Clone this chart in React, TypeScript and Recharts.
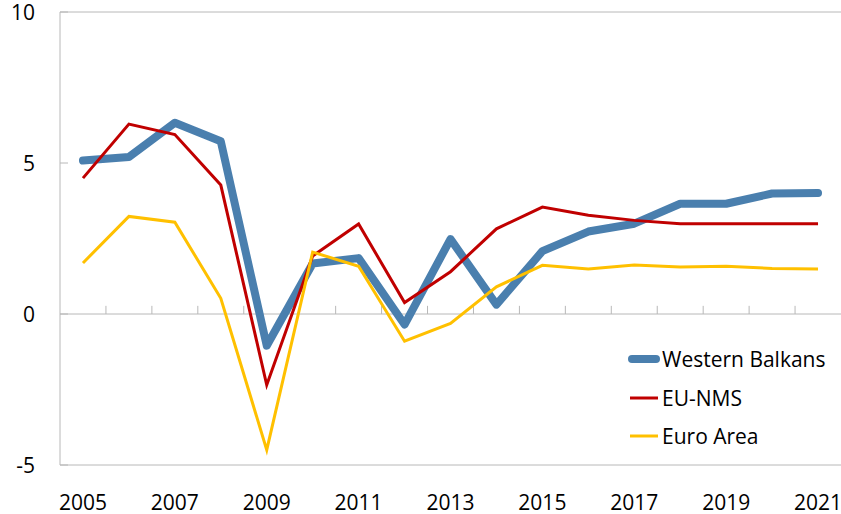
import { LineChart, Line, XAxis, YAxis, ReferenceLine } from 'recharts';

const years = [2005, 2006, 2007, 2008, 2009, 2010, 2011, 2012, 2013, 2014, 2015, 2016, 2017, 2018, 2019, 2020, 2021];
const westernBalkans = [5.08, 5.2, 6.33, 5.72, -1.05, 1.67, 1.85, -0.35, 2.48, 0.31, 2.08, 2.73, 2.99, 3.65, 3.65, 3.99, 4.01];
const euNms = [4.5, 6.29, 5.94, 4.27, -2.35, 1.92, 2.98, 0.38, 1.4, 2.82, 3.54, 3.27, 3.1, 2.99, 2.99, 2.99, 2.99];
const euroArea = [1.69, 3.23, 3.04, 0.52, -4.5, 2.05, 1.58, -0.9, -0.31, 0.9, 1.61, 1.49, 1.62, 1.56, 1.58, 1.51, 1.49];

const yearTicks = [2005, 2007, 2009, 2011, 2013, 2015, 2017, 2019, 2021];
const valueTicks = [-5, 0, 5, 10];

const data = years.map((year, i) => ({
    year,
    wb: westernBalkans[i],
    nms: euNms[i],
    ea: euroArea[i],
}));

// boundaries between years, where the small ticks sit on the zero line
const bounds = years.slice(0, -1).map((y) => y + 0.5);

const series = [
    { key: 'wb', name: 'Western Balkans', color: '#4A7FAE', width: 8, round: true },
    { key: 'nms', name: 'EU-NMS', color: '#C00000', width: 3, round: false },
    { key: 'ea', name: 'Euro Area', color: '#FFC000', width: 3, round: false },
];

const GRID = '#B8B8B8';
const FONT = 21;

const YTick = ({ x, y, payload }: any) => (
    <g>
        <text x={x} y={y} dy="0.36em" textAnchor="end" fill="#000" fontSize={FONT}>{payload.value}</text>
        <line x1={x + 25} x2={x + 33} y1={y} y2={y} stroke={GRID} />
    </g>
);

const LegendBox = () => (
    <div style={{ position: 'absolute', left: 628, top: 340 }}>
        {series.map((s) => (
            <div key={s.key} style={{ display: 'flex', alignItems: 'center', height: 38.5 }}>
                <svg width={32} height={10}>
                    <line
                        x1={s.round ? 4 : 2}
                        x2={s.round ? 28 : 30}
                        y1={5}
                        y2={5}
                        stroke={s.color}
                        strokeWidth={s.width}
                        strokeLinecap={s.round ? 'round' : 'butt'}
                    />
                </svg>
                <span style={{ fontSize: FONT, color: '#000', marginLeft: 2, whiteSpace: 'nowrap' }}>{s.name}</span>
            </div>
        ))}
    </div>
);

export default function App() {
    return (
        <div style={{ position: 'absolute', left: 0, top: 0, width: 841, height: 514, background: '#fff', fontFamily: '"Open Sans", sans-serif' }}>
            <LineChart width={841} height={514} data={data} margin={{ top: 12, right: 0, bottom: 0, left: 0 }}>
                <XAxis
                    dataKey="year"
                    type="number"
                    domain={[2004.5, 2021.5]}
                    ticks={yearTicks}
                    interval={0}
                    tickLine={false}
                    tickSize={0}
                    tickMargin={30}
                    axisLine={{ stroke: GRID }}
                    height={49}
                    tick={{ fontSize: FONT, fill: '#000' }}
                />
                <YAxis
                    type="number"
                    domain={[-5, 10]}
                    ticks={valueTicks}
                    interval={0}
                    width={60}
                    tickLine={false}
                    tickSize={0}
                    tickMargin={25}
                    axisLine={{ stroke: GRID }}
                    tick={<YTick />}
                />
                <ReferenceLine y={10} stroke={GRID} />
                <ReferenceLine y={0} stroke={GRID} />
                {bounds.map((b) => (
                    <ReferenceLine key={b} segment={[{ x: b, y: 0 }, { x: b, y: 0.27 }]} stroke={GRID} />
                ))}
                {series.map((s) => (
                    <Line
                        key={s.key}
                        dataKey={s.key}
                        name={s.name}
                        stroke={s.color}
                        strokeWidth={s.width}
                        strokeLinecap={s.round ? 'round' : 'butt'}
                        strokeLinejoin={s.round ? 'round' : 'miter'}
                        dot={false}
                        activeDot={false}
                        isAnimationActive={false}
                    />
                ))}
            </LineChart>
            <LegendBox />
        </div>
    );
}
